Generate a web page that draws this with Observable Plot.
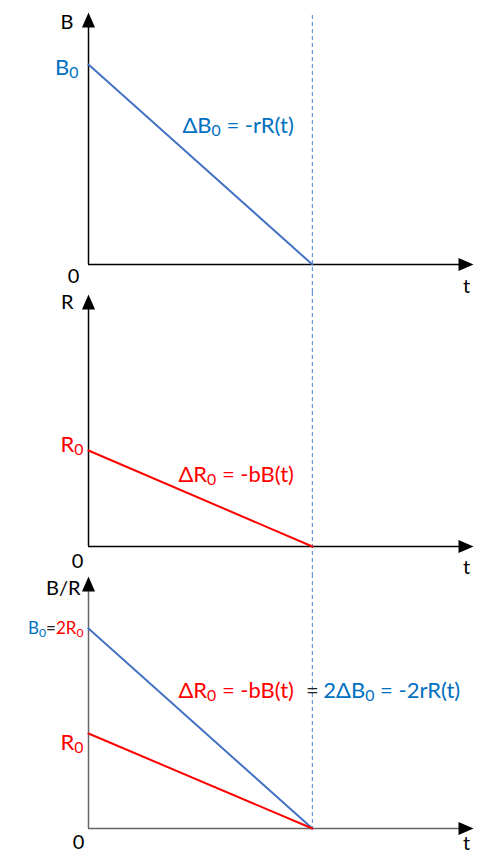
<!DOCTYPE html>
<html><head><meta charset="utf-8">
<script src="https://cdn.jsdelivr.net/npm/d3@7"></script>
<script src="https://cdn.jsdelivr.net/npm/@observablehq/plot@0.6"></script>
<style>body{margin:0;background:#fff} #chart{width:479px;height:854px}</style>
</head><body><div id="chart"></div>
<script>
// ---- data ----
const panels = ["B", "R", "B/R"];
const t = [0, 1];            // start time, depletion time
const B = [2, 0];            // panel 1: B(t)
const R = [0.96, 0];         // panel 2: R(t)
const B3 = [2, 0];           // panel 3: B(t)
const R3 = [0.95, 0];        // panel 3: R(t)
const tMax = 1.72, yMax = 2.54, axisTop = 2.52;

const blue = "#4472C4", blueText = "#0070C0", red = "#FF0000", dark = "#222";
const FONT = "Lato, 'Noto Sans', sans-serif";

const series = [
  ...t.map((ti, i) => ({panel: "B", s: "B", t: ti, v: B[i]})),
  ...t.map((ti, i) => ({panel: "R", s: "R", t: ti, v: R[i]})),
  ...t.map((ti, i) => ({panel: "B/R", s: "B", t: ti, v: B3[i]})),
  ...t.map((ti, i) => ({panel: "B/R", s: "R", t: ti, v: R3[i]}))
];
const axisColor = {"B": "#000", "R": "#000", "B/R": "#666"};
const tMid = (t[0] + t[1]) / 2;
const mid = a => (a[0] + a[1]) / 2;

// multi-coloured label pieces
const mixedLabel = [["B₀", blueText], ["=", dark], ["2R₀", red]];

const arrowSym = {draw(c) { c.moveTo(0, 0); c.lineTo(-6.5, 15); c.lineTo(6.5, 15); c.closePath(); }};

function txt(panel, s, opts) {
  return Plot.text([{panel, s}], {fy: "panel", text: "s", fontFamily: FONT, fontSize: 20, fill: "black", ...opts});
}

const marks = [
  Plot.ruleX([{panel: "B", a: 2.49, b: -0.28}, {panel: "R", a: yMax, b: -0.28}, {panel: "B/R", a: yMax, b: 0}],
    {fy: "panel", x: t[1], y1: "a", y2: "b", stroke: "#4a7fd0", strokeWidth: 1, strokeDasharray: "4,3"}),
  Plot.ruleY(panels, {fy: d => d, y: 0, x1: 0, x2: tMax - 0.03, stroke: d => axisColor[d], strokeWidth: 1.5}),
  Plot.ruleX(panels, {fy: d => d, x: 0, y1: 0, y2: axisTop - 0.1, stroke: d => axisColor[d], strokeWidth: 1.5}),
  Plot.dot(panels, {fy: d => d, x: tMax, y: 0, symbol: arrowSym, rotate: 90, fill: "black", stroke: null}),
  Plot.dot(panels, {fy: d => d, x: 0, y: axisTop, symbol: arrowSym, fill: "black", stroke: null}),
  Plot.line(series, {fy: "panel", x: "t", y: "v", z: d => d.panel + d.s, stroke: d => d.s === "B" ? blue : red, strokeWidth: 2}),
  txt("B", "B", {x: 0, y: 2.42, dx: -15, textAnchor: "end"}),
  txt("R", "R", {x: 0, y: 2.44, dx: -15, textAnchor: "end"}),
  txt("B/R", "B/R", {x: 0, y: 2.40, dx: -8, textAnchor: "end"}),
  txt("B", "0", {x: 0, y: 0, dx: -15, dy: 12}),
  txt("R", "0", {x: 0, y: 0, dx: -11, dy: 15}),
  txt("B/R", "0", {x: 0, y: 0, dx: -10, dy: 14}),
  txt("B", "t", {x: tMax, y: 0, dx: -7, dy: 22}),
  txt("R", "t", {x: tMax, y: 0, dx: -7, dy: 21}),
  txt("B/R", "t", {x: tMax, y: 0, dx: -7, dy: 15}),
  txt("B", "B₀", {x: 0, y: B[0], dx: -10, dy: 3, textAnchor: "end", fill: blueText, fontSize: 22}),
  txt("R", "R₀", {x: 0, y: R[0], dx: -5, dy: -6, textAnchor: "end", fill: red, fontSize: 22}),
  txt("B/R", "R₀", {x: 0, y: R3[0], dx: -5, dy: 9, textAnchor: "end", fill: red, fontSize: 22}),
  txt("B/R", mixedLabel.map(d => d[0]).join(""), {x: 0, y: B3[0], dx: -5, textAnchor: "end", fill: red, fontSize: 17}),
  txt("B", "ΔB₀ = -rR(t)", {x: tMid, y: mid(B), dx: -18, dy: -39, textAnchor: "start", fill: blueText, fontSize: 22}),
  txt("R", "ΔR₀ = -bB(t)", {x: tMid, y: mid(R), dx: -22, dy: -24, textAnchor: "start", fill: red, fontSize: 22}),
  txt("B/R", "ΔR₀ = -bB(t)", {x: tMid, y: mid(B3), dx: -22, dy: -38, textAnchor: "start", fill: red, fontSize: 22}),
  txt("B/R", "=", {x: t[1], y: mid(B3), dx: 0, dy: -38, fill: dark, fontSize: 22}),
  txt("B/R", "2ΔB₀ = -2rR(t)", {x: t[1], y: mid(B3), dx: 11, dy: -38, textAnchor: "start", fill: blueText, fontSize: 22})
];

const chart = Plot.plot({
  width: 479, height: 854,
  marginTop: 10, marginBottom: 26, marginLeft: 88, marginRight: 6,
  x: {domain: [0, tMax], axis: null},
  y: {domain: [0, yMax], axis: null},
  fy: {domain: panels, axis: null, paddingInner: 28 / 282, paddingOuter: 0},
  style: {background: "white", overflow: "visible"},
  marks
});
document.getElementById("chart").appendChild(chart);

// typographic pass: real subscript zeros and per-piece colours
function rebuild(el, pieces, fs) {
  const shift = fs * 0.16;
  let pending = 0;
  pieces.forEach(([str, color]) => {
    const parts = str.split("₀");
    parts.forEach((p, i) => {
      if (p) {
        const ts = el.append("tspan").text(p);
        if (color) ts.attr("fill", color);
        if (pending) { ts.attr("dy", pending + "px"); pending = 0; }
      }
      if (i < parts.length - 1) {
        const sub = el.append("tspan").attr("font-size", (fs * 0.72) + "px").attr("dy", (shift + pending) + "px").text("0");
        if (color) sub.attr("fill", color);
        pending = -shift;
      }
    });
  });
}
const mixedStr = mixedLabel.map(d => d[0]).join("");
d3.select(chart).selectAll("text").each(function() {
  const s = this.textContent;
  if (!s.includes("₀")) return;
  const fs = parseFloat(getComputedStyle(this).fontSize);
  const el = d3.select(this);
  el.text(null);
  rebuild(el, s === mixedStr ? mixedLabel : [[s, null]], fs);
});
</script></body></html>
